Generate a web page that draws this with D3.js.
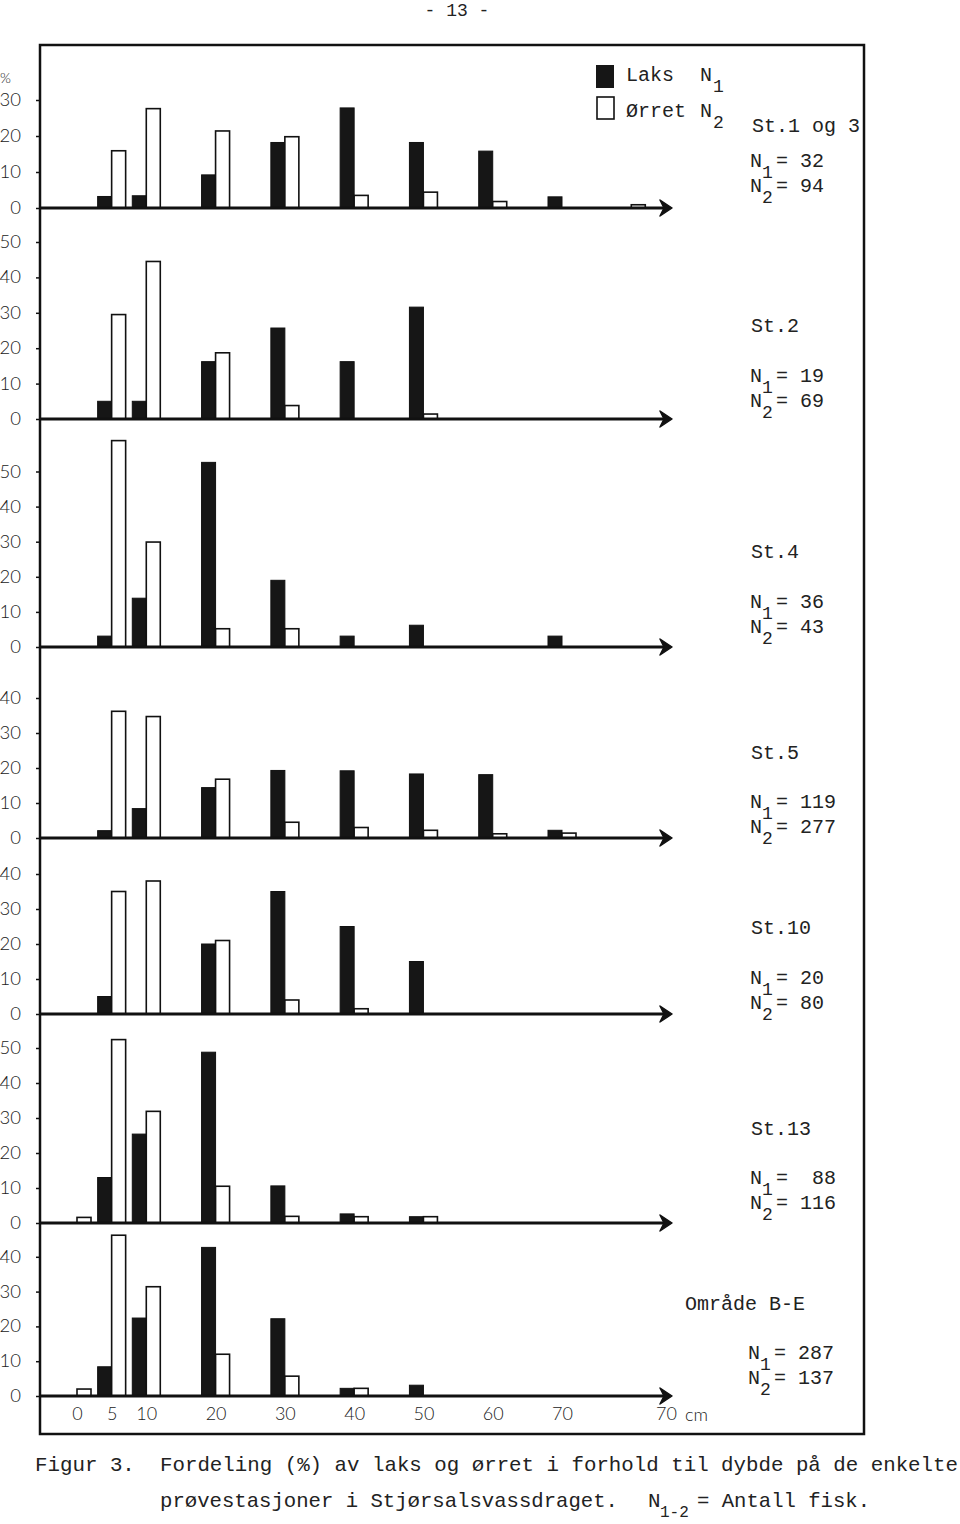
<!DOCTYPE html>
<html><head><meta charset="utf-8">
<script src="https://cdn.jsdelivr.net/npm/d3@7"></script>
<style>body{margin:0;background:#fff} svg{display:block}</style>
</head><body><svg id="c" width="960" height="1524"></svg>
<script>
// ---------- DATA ----------
const depths = [0, 5, 10, 20, 30, 40, 50, 60, 70, 80];
const xTickValues = [0, 5, 10, 20, 30, 40, 50, 60, 70, 85];
const xTickLabels = ["0", "5", "10", "20", "30", "40", "50", "60", "70", "70"];
const stations = ["St.1 og 3", "St.2", "St.4", "St.5", "St.10", "St.13", "Område B-E"];
const n1Text = ["= 32", "= 19", "= 36", "= 119", "= 20", "=  88", "= 287"];
const n2Text = ["= 94", "= 69", "= 43", "= 277", "= 80", "= 116", "= 137"];
const yTicks = [[0,10,20,30],[0,10,20,30,40,50],[0,10,20,30,40,50],[0,10,20,30,40],[0,10,20,30,40],[0,10,20,30,40,50],[0,10,20,30,40]];

const laksSt1  = [0, 3.2, 3.4, 9.2, 18.2, 27.8, 18.2, 15.8, 3.1, 0];
const orretSt1 = [0, 15.9, 27.6, 21.4, 19.8, 3.5, 4.4, 1.8, 0, 0.9];
const laksSt2  = [0, 5.0, 5.0, 16.2, 25.7, 16.2, 31.6, 0, 0, 0];
const orretSt2 = [0, 29.5, 44.5, 18.7, 3.8, 0, 1.4, 0, 0, 0];
const laksSt4  = [0, 3.1, 13.9, 52.6, 19.0, 3.1, 6.2, 0, 3.1, 0];
const orretSt4 = [0, 58.8, 29.9, 5.2, 5.2, 0, 0, 0, 0, 0];
const laksSt5  = [0, 2.1, 8.4, 14.4, 19.3, 19.2, 18.3, 18.1, 2.2, 0];
const orretSt5 = [0, 36.2, 34.7, 16.8, 4.5, 3.0, 2.2, 1.2, 1.4, 0];
const laksSt10  = [0, 5.0, 0, 20.0, 35.0, 25.0, 15.0, 0, 0, 0];
const orretSt10 = [0, 35.0, 38.0, 21.0, 4.0, 1.5, 0, 0, 0, 0];
const laksSt13  = [0, 13.0, 25.4, 48.8, 10.6, 2.6, 1.8, 0, 0, 0];
const orretSt13 = [1.6, 52.4, 31.9, 10.5, 1.9, 1.8, 1.8, 0, 0, 0];
const laksBE  = [0, 8.4, 22.4, 42.7, 22.2, 2.2, 3.1, 0, 0, 0];
const orretBE = [2.0, 46.2, 31.4, 12.0, 5.7, 2.2, 0, 0, 0, 0];

const laks = [laksSt1, laksSt2, laksSt4, laksSt5, laksSt10, laksSt13, laksBE];
const orret = [orretSt1, orretSt2, orretSt4, orretSt5, orretSt10, orretSt13, orretBE];

// ---------- LAYOUT ----------
const baselines = [208, 419, 647, 838, 1014, 1223, 1396];
const unit10 = [36, 35.4, 35.1, 35, 35, 35, 34.8];
const titleY = [132, 332, 558, 759, 934, 1135, 1310];
const titleX = [752, 751, 751, 751, 751, 751, 685];
const nY = [167, 382, 608, 808, 984, 1184, 1359];
const nX = [750, 750, 750, 750, 750, 750, 748];
const mono = "'Liberation Mono', 'Courier New', monospace";
const sans = "Lato, 'Open Sans', sans-serif";

const svg = d3.select("#c");
const x = d3.scaleLinear().domain([0, 70]).range([77, 562]);
const bw = 14;
const axisLeftX = 40, tipX = 672;

// frame
svg.append("rect").attr("x", 40).attr("y", 45).attr("width", 824).attr("height", 1389)
  .attr("fill", "none").attr("stroke", "#111").attr("stroke-width", 2.5);

// header
svg.append("text").attr("x", 457).attr("y", 16).attr("text-anchor", "middle")
  .attr("font-family", mono).attr("font-size", 18).attr("fill", "#222").text("- 13 -");

stations.forEach((name, i) => {
  const y = d3.scaleLinear().domain([0, 10]).range([baselines[i], baselines[i] - unit10[i]]);
  const g = svg.append("g");

  // y axis ticks/labels
  const ax = d3.axisLeft(y).tickValues(yTicks[i]).tickSize(4).tickPadding(15).tickFormat(d3.format("d"));
  const ga = g.append("g").attr("transform", `translate(${axisLeftX},0)`).call(ax);
  ga.select(".domain").remove();
  ga.selectAll("line").attr("stroke", "#111").attr("stroke-width", 1.5);
  ga.selectAll("text").attr("font-family", sans).attr("font-weight", 300)
    .attr("font-size", 18.5).attr("fill", "#222").attr("dy", "0.3em");

  // bars
  g.selectAll(".laks").data(laks[i].map((v, k) => ({d: depths[k], v})).filter(o => o.v > 0))
    .enter().append("rect")
    .attr("x", o => x(o.d) - bw).attr("width", bw)
    .attr("y", o => y(o.v)).attr("height", o => y(0) - y(o.v))
    .attr("fill", "#161616").attr("stroke", "#111").attr("stroke-width", 1);
  g.selectAll(".orret").data(orret[i].map((v, k) => ({d: depths[k], v})).filter(o => o.v > 0))
    .enter().append("rect")
    .attr("x", o => x(o.d)).attr("width", bw)
    .attr("y", o => y(o.v)).attr("height", o => y(0) - y(o.v))
    .attr("fill", "#fff").attr("stroke", "#111").attr("stroke-width", 1.6);

  // baseline with arrow
  const b = y(0);
  g.append("line").attr("x1", axisLeftX).attr("x2", tipX - 6).attr("y1", b).attr("y2", b)
    .attr("stroke", "#111").attr("stroke-width", 3);
  g.append("path").attr("d", `M${tipX},${b} L${tipX-12},${b-8} L${tipX-8},${b} L${tipX-12},${b+8} Z`)
    .attr("fill", "#111").attr("stroke", "#111").attr("stroke-width", 1.5).attr("stroke-linejoin", "round");

  // right labels
  svg.append("text").attr("x", titleX[i]).attr("y", titleY[i]).attr("font-family", mono)
    .attr("font-size", 20).attr("fill", "#222").text(name);
  [[n1Text[i], "1", 0], [n2Text[i], "2", 25]].forEach(([t, s, off]) => {
    const yy = nY[i] + off;
    svg.append("text").attr("x", nX[i]).attr("y", yy).attr("font-family", mono).attr("font-size", 20).attr("fill", "#222").text("N");
    svg.append("text").attr("x", nX[i] + 12).attr("y", yy + 11).attr("font-family", mono).attr("font-size", 18).attr("fill", "#222").text(s);
    svg.append("text").attr("x", nX[i] + 26).attr("y", yy).attr("font-family", mono).attr("font-size", 20).attr("fill", "#222").attr("xml:space", "preserve").style("white-space", "pre").text(t);
  });
});

// % sign
svg.append("text").attr("x", 0).attr("y", 83).attr("font-family", sans).attr("font-weight", 300)
  .attr("font-size", 14).attr("fill", "#222").text("%");

// bottom x axis labels
const xb = d3.axisBottom(x).tickValues(xTickValues).tickSize(0).tickPadding(11)
  .tickFormat((d, k) => xTickLabels[k]);
const gx = svg.append("g").attr("transform", `translate(0,${baselines[6]})`).call(xb);
gx.select(".domain").remove();
gx.selectAll("text").attr("font-family", sans).attr("font-weight", 300).attr("font-size", 18).attr("fill", "#222");
svg.append("text").attr("x", 685).attr("y", 1421).attr("font-family", sans).attr("font-weight", 300)
  .attr("font-size", 18).attr("fill", "#222").text("cm");

// legend
svg.append("rect").attr("x", 596).attr("y", 65).attr("width", 18).attr("height", 23).attr("fill", "#161616");
svg.append("rect").attr("x", 597).attr("y", 97).attr("width", 17).attr("height", 22).attr("fill", "#fff").attr("stroke", "#111").attr("stroke-width", 1.6);
const legendItems = [["Laks", "1", 81], ["Ørret", "2", 117]];
legendItems.forEach(([t, s, yy]) => {
  svg.append("text").attr("x", 626).attr("y", yy).attr("font-family", mono).attr("font-size", 20).attr("fill", "#222").text(t);
  svg.append("text").attr("x", 700).attr("y", yy).attr("font-family", mono).attr("font-size", 20).attr("fill", "#222").text("N");
  svg.append("text").attr("x", 713).attr("y", yy + 11).attr("font-family", mono).attr("font-size", 18).attr("fill", "#222").text(s);
});

// caption
const cap = svg.append("g").attr("font-family", mono).attr("fill", "#222");
cap.append("text").attr("x", 35).attr("y", 1471).attr("font-size", 20.8).text("Figur 3.");
cap.append("text").attr("x", 160).attr("y", 1471).attr("font-size", 20.8)
  .attr("textLength", 798).attr("lengthAdjust", "spacingAndGlyphs")
  .text("Fordeling (%) av laks og ørret i forhold til dybde på de enkelte");
cap.append("text").attr("x", 160).attr("y", 1507).attr("font-size", 20.8)
  .attr("textLength", 458).attr("lengthAdjust", "spacingAndGlyphs")
  .text("prøvestasjoner i Stjørsalsvassdraget.");
cap.append("text").attr("x", 648).attr("y", 1507).attr("font-size", 20.8).text("N");
cap.append("text").attr("x", 660).attr("y", 1517).attr("font-size", 16).text("1-2");
cap.append("text").attr("x", 697).attr("y", 1507).attr("font-size", 20.8)
  .attr("textLength", 173).attr("lengthAdjust", "spacingAndGlyphs").text("= Antall fisk.");
</script></body></html>
